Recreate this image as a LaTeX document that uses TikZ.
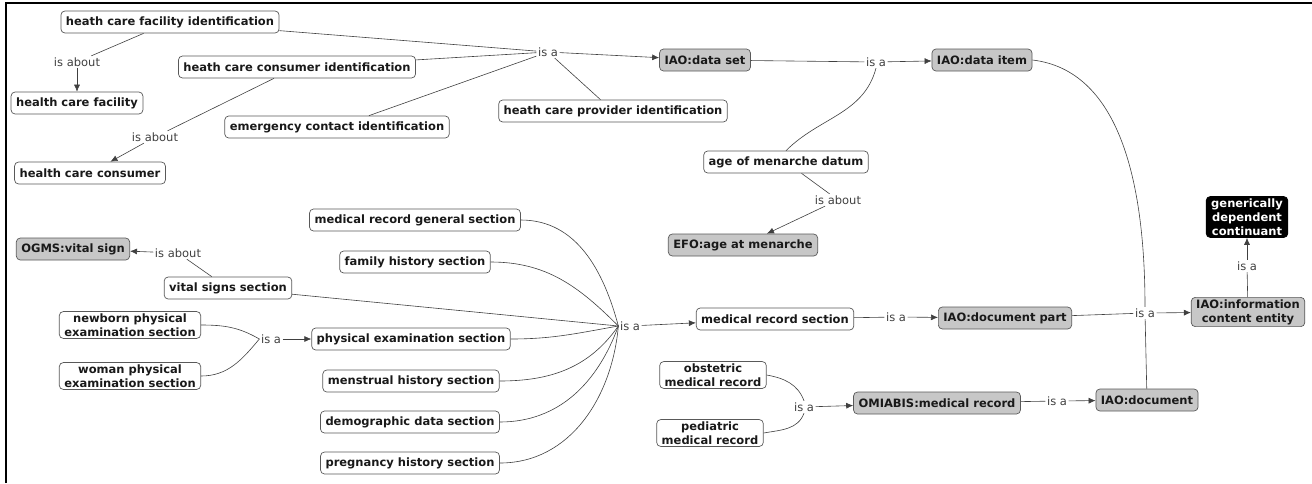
\documentclass[tikz,border=0pt]{standalone}
\usepackage{fontspec}
\setmainfont{DejaVu Sans}
\usetikzlibrary{arrows.meta,positioning}

\begin{document}
\begin{tikzpicture}[
    x=1pt, y=1pt,
    concept/.style={
        rectangle,
        rounded corners=4pt,
        draw=black!65,
        line width=0.7pt,
        fill=white,
        font=\bfseries\fontsize{11.5}{14}\selectfont,
        text=black!90,
        minimum height=22pt,
        inner xsep=5pt,
        inner ysep=2pt,
        align=center
    },
    term/.style={
        concept,
        fill=black!22
    },
    topterm/.style={
        concept,
        fill=black,
        draw=black,
        text=white
    },
    phrase/.style={
        font=\fontsize{11.5}{14}\selectfont,
        text=black!75,
        inner sep=1.5pt
    },
    link/.style={
        draw=black!75,
        line width=0.6pt
    },
    arrow/.style={
        ->,
        >={Latex[length=7pt,width=6pt]},
        draw=black!75,
        line width=0.6pt
    }
]
\useasboundingbox (0,0) rectangle (1312,-483);

% Frame
\draw[line width=2pt] (6,-483) -- (6,-3) -- (1312,-3);

% Identification items
\node[concept] (hcfi) at (170,-22) {heath care facility identification};
\node[concept] (hcf) at (77,-103) {health care facility};
\node[concept] (hcci) at (297,-67) {heath care consumer identification};
\node[concept] (eci) at (337,-127) {emergency contact identification};
\node[concept] (hcc) at (90,-173) {health care consumer};
\node[concept] (hcpi) at (613,-111) {heath care provider identification};

% Data items
\node[term] (dataset) at (705,-60) {IAO:data set};
\node[term] (dataitem) at (982,-60) {IAO:data item};
\node[concept] (amd) at (786,-162) {age of menarche datum};
\node[term] (efo) at (743,-245) {EFO:age at menarche};

% Sections
\node[concept] (mrgs) at (415,-220) {medical record general section};
\node[concept] (fhs) at (415,-262) {family history section};
\node[term] (ogms) at (73,-249) {OGMS:vital sign};
\node[concept] (vss) at (228,-288) {vital signs section};
\node[concept] (npes) at (130,-325) {newborn physical\\examination section};
\node[concept] (wpes) at (130,-376) {woman physical\\examination section};
\node[concept] (pes) at (411,-339) {physical examination section};
\node[concept] (mhs) at (411,-381) {menstrual history section};
\node[concept] (dds) at (410,-422) {demographic data section};
\node[concept] (phs) at (410,-463) {pregnancy history section};
\node[concept] (mrs) at (775,-319) {medical record section};
\node[term] (docpart) at (1005,-318) {IAO:document part};

% Records
\node[concept] (omr) at (713,-375) {obstetric\\medical record};
\node[concept] (pmr) at (710,-433) {pediatric\\medical record};
\node[term] (omiabis) at (937,-403) {OMIABIS:medical record};
\node[term] (doc) at (1147,-400) {IAO:document};

% Upper classes
\node[term] (ice) at (1248,-312) {IAO:information\\content entity};
\node[topterm] (gdc) at (1247,-217) {generically\\dependent\\continuant};

% Linking phrases
\node[phrase] (ab1) at (77,-62) {is about};
\node[phrase] (ab2) at (155,-137) {is about};
\node[phrase] (isa1) at (548,-52) {is a};
\node[phrase] (isa2) at (876,-62) {is a};
\node[phrase] (ab3) at (838,-200) {is about};
\node[phrase] (ab4) at (178,-253) {is about};
\node[phrase] (isa3) at (271,-339) {is a};
\node[phrase] (isa4) at (630,-326) {is a};
\node[phrase] (isa5) at (896,-317) {is a};
\node[phrase] (isa6) at (1145,-313) {is a};
\node[phrase] (isa7) at (1247,-266) {is a};
\node[phrase] (isa8) at (804,-407) {is a};
\node[phrase] (isa9) at (1057,-401) {is a};

% is about
\draw[link] (hcfi) -- (ab1);
\draw[arrow] (ab1) -- (hcf);
\draw[link] (hcci) -- (ab2);
\draw[arrow] (ab2) -- (hcc);
\draw[link] (amd) -- (ab3);
\draw[arrow] (ab3) -- (efo);
\draw[link] (vss) -- (ab4);
\draw[arrow] (ab4) -- (ogms);

% is a: data set
\draw[link] (hcfi) -- (isa1);
\draw[link] (hcci) -- (isa1);
\draw[link] (eci) -- (isa1);
\draw[link] (hcpi) -- (isa1);
\draw[arrow] (isa1) -- (dataset);

% is a: data item
\draw[link] (dataset) -- (isa2);
\draw[link] (amd.north) to[out=45, in=-105] (isa2.south);
\draw[arrow] (isa2) -- (dataitem);

% is a: physical examination section
\draw[link] (npes.east) to[out=0, in=150] (isa3.west);
\draw[link] (wpes.east) to[out=0, in=-130] (isa3.west);
\draw[arrow] (isa3) -- (pes);

% is a: medical record section
\draw[link] (mrgs.east) to[out=0, in=105] (isa4.west);
\draw[link] (fhs.east) to[out=0, in=135] (isa4.west);
\draw[link] (vss) -- (isa4.west);
\draw[link] (pes.east) to[out=0, in=190] (isa4.west);
\draw[link] (mhs.east) to[out=0, in=235] (isa4.west);
\draw[link] (dds.east) to[out=0, in=250] (isa4.west);
\draw[link] (phs.east) to[out=0, in=265] (isa4.west);
\draw[arrow] (isa4) -- (mrs);

% is a: document part
\draw[link] (mrs) -- (isa5);
\draw[arrow] (isa5) -- (docpart);

% is a: information content entity
\draw[link] (dataitem.east) .. controls +(85,-10) and +(0,130) .. (isa6.north);
\draw[link] (docpart) -- (isa6);
\draw[link] (doc) -- (isa6);
\draw[arrow] (isa6) -- (ice);
\draw[link] (ice) -- (isa7);
\draw[arrow] (isa7) -- (gdc);

% is a: medical record
\draw[link] (omr.east) to[out=-10, in=110] (isa8.north);
\draw[link] (pmr.east) to[out=10, in=-110] (isa8.south);
\draw[arrow] (isa8) -- (omiabis);
\draw[link] (omiabis) -- (isa9);
\draw[arrow] (isa9) -- (doc);

\end{tikzpicture}
\end{document}
